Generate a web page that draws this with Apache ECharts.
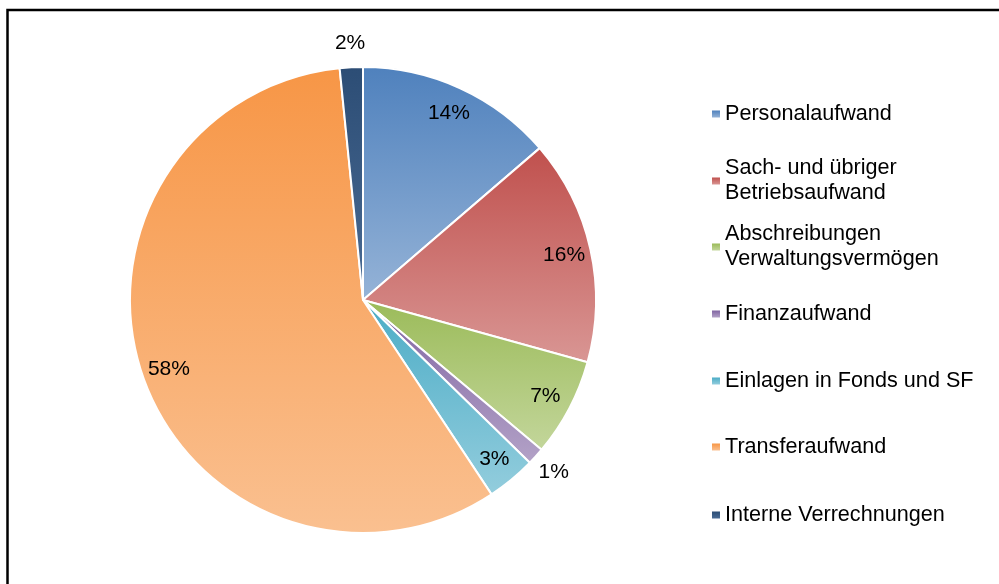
<!DOCTYPE html>
<html>
<head>
<meta charset="utf-8">
<script src="https://cdn.jsdelivr.net/npm/echarts@6/dist/echarts.min.js"></script>
<style>
  html, body { margin: 0; padding: 0; background: #fff; }
  #chart { width: 999px; height: 584px; }
</style>
</head>
<body>
<div id="chart"></div>
<script>
// Kategorien und Anteile (in %), im Uhrzeigersinn ab 12 Uhr
const categories = [
  'Personalaufwand',
  'Sach- und übriger Betriebsaufwand',
  'Abschreibungen Verwaltungsvermögen',
  'Finanzaufwand',
  'Einlagen in Fonds und SF',
  'Transferaufwand',
  'Interne Verrechnungen'
];
const shares = [13.7, 15.6, 6.8, 1.2, 3.4, 57.7, 1.6];
// Legendentext mit Zeilenumbruch
const legendLabels = [
  'Personalaufwand',
  'Sach- und übriger\nBetriebsaufwand',
  'Abschreibungen\nVerwaltungsvermögen',
  'Finanzaufwand',
  'Einlagen in Fonds und SF',
  'Transferaufwand',
  'Interne Verrechnungen'
];
// Beschriftungen ausserhalb des Kreises (kleine Segmente)
const outsideLabels = ['Finanzaufwand', 'Interne Verrechnungen'];

// Farbverläufe (oben dunkel, unten hell)
const colorTop = ['#4F81BD', '#C0504D', '#9BBB59', '#8064A2', '#4BACC6', '#F79646', '#2C4D75'];
const colorBottom = ['#95B3D7', '#D99694', '#C3D69B', '#B3A2C7', '#93CDDD', '#FAC090', '#4A6B94'];

const chartDom = document.getElementById('chart');
const myChart = echarts.init(chartDom);

const grad = (i) => new echarts.graphic.LinearGradient(0, 0, 0, 1, [
  { offset: 0, color: colorTop[i] },
  { offset: 1, color: colorBottom[i] }
]);

const pieData = categories.map((name, i) => ({
  name: name,
  value: shares[i],
  itemStyle: { color: grad(i) }
}));

const center = [363, 300];
const labelFont = { color: '#000', fontSize: 21, fontFamily: 'Liberation Sans, Arial, sans-serif' };

// Legenden: je ein Eintrag, Abstand wie in Excel
const legendFirstLine = [114, 181, 247, 314, 381, 447, 515];
const lineH = 25;
const legends = categories.map((name, i) => {
  const twoLines = legendLabels[i].indexOf('\n') >= 0;
  return {
    orient: 'vertical',
    left: 712,
    top: legendFirstLine[i] - (twoLines ? lineH * 1.5 : lineH / 2),
    padding: 0,
    itemWidth: 8,
    itemHeight: 7,
    icon: 'rect',
    selectedMode: false,
    itemStyle: { borderWidth: 0 },
    formatter: () => legendLabels[i],
    textStyle: Object.assign({}, labelFont, { fontSize: 21.6, lineHeight: lineH, padding: twoLines ? [lineH, 0, 0, 0] : 0 }),
    data: [name]
  };
});

let option = {
  animation: false,
  graphic: [{
    type: 'rect',
    shape: { x: 7.5, y: 10, width: 1100, height: 700 },
    style: { fill: 'none', stroke: '#000', lineWidth: 2.5 },
    silent: true
  }],
  legend: legends,
  series: [
    {
      type: 'pie',
      center: center,
      radius: [0, 233],
      startAngle: 90,
      clockwise: true,
      avoidLabelOverlap: false,
      data: pieData,
      itemStyle: { borderColor: '#fff', borderWidth: 2 },
      label: { show: false },
      labelLine: { show: false },
      emphasis: { disabled: true }
    },
    {
      // Prozentangaben innen (nahe am Rand)
      type: 'pie',
      center: center,
      radius: [173, 233],
      startAngle: 90,
      silent: true,
      avoidLabelOverlap: false,
      data: categories.map((name, i) => ({ name: name, value: shares[i] })),
      itemStyle: { color: 'rgba(0,0,0,0)' },
      label: Object.assign({
        show: true,
        position: 'inside',
        formatter: (p) => outsideLabels.indexOf(p.name) >= 0 ? '' : Math.round(p.value) + '%'
      }, labelFont),
      labelLine: { show: false },
      emphasis: { disabled: true }
    },
    {
      // Prozentangaben aussen
      type: 'pie',
      center: center,
      radius: [230, 278],
      startAngle: 90,
      silent: true,
      avoidLabelOverlap: false,
      data: categories.map((name, i) => ({ name: name, value: shares[i] })),
      itemStyle: { color: 'rgba(0,0,0,0)' },
      label: Object.assign({
        show: true,
        position: 'inside',
        formatter: (p) => outsideLabels.indexOf(p.name) >= 0 ? Math.round(p.value) + '%' : ''
      }, labelFont),
      labelLine: { show: false },
      emphasis: { disabled: true }
    }
  ]
};

option && myChart.setOption(option);
</script>
</body>
</html>
